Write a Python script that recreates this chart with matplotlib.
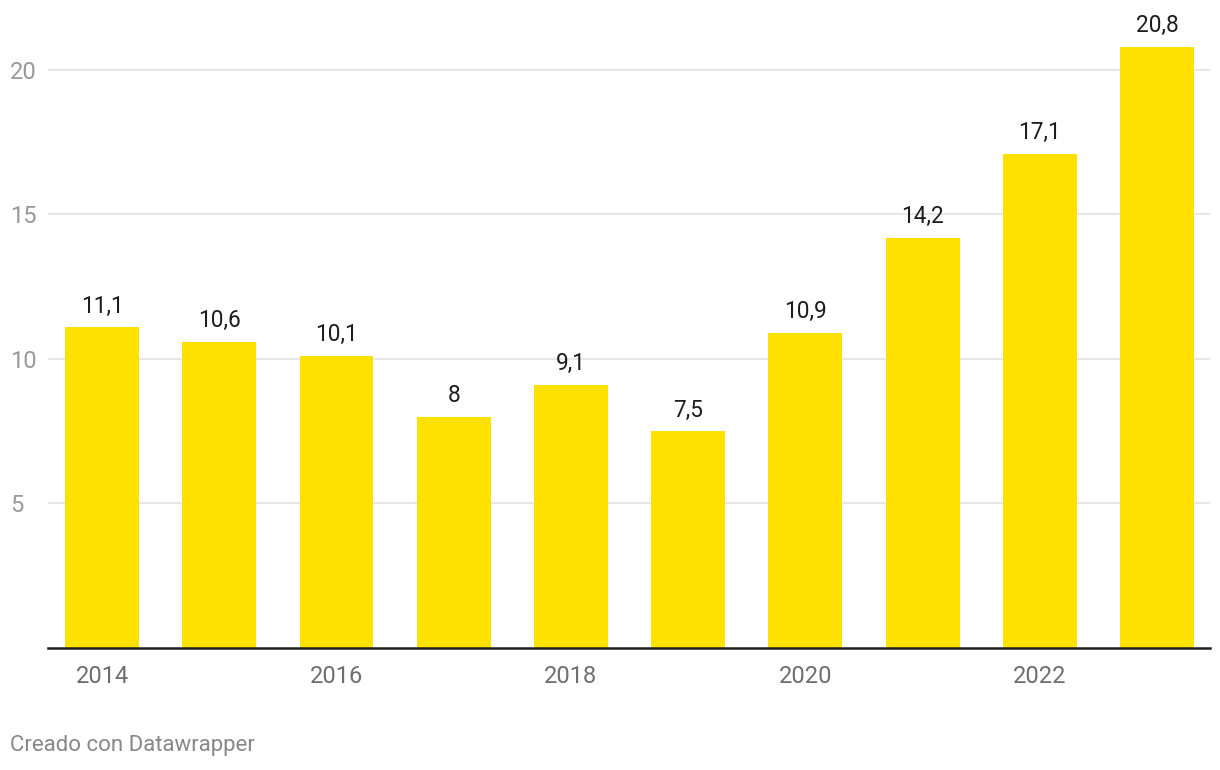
import matplotlib.pyplot as plt
import numpy as np

plt.rcParams['font.family'] = ['Roboto', 'DejaVu Sans']

years = [2014, 2015, 2016, 2017, 2018, 2019, 2020, 2021, 2022, 2023]
values = [11.1, 10.6, 10.1, 8.0, 9.1, 7.5, 10.9, 14.2, 17.1, 20.8]
value_labels = ['11,1', '10,6', '10,1', '8', '9,1', '7,5', '10,9', '14,2', '17,1', '20,8']
y_ticks = [5, 10, 15, 20]
x_tick_years = [2014, 2016, 2018, 2020, 2022]

fig = plt.figure(figsize=(12.2, 7.7), dpi=100)
ax = fig.add_axes([48 / 1220, 122 / 770, 1162 / 1220, 628 / 770])

x = np.arange(len(years))
bars = ax.bar(x, values, width=0.63, color='#FFE100', zorder=3)

for xi, v, lab in zip(x, values, value_labels):
    ax.annotate(lab, (xi, v), xytext=(0, 7), textcoords='offset points',
                ha='center', va='bottom', fontsize=16.3, color='#1d1d1d')

ax.set_xlim(-0.461, 9.452)
ax.set_ylim(0, 21.73)

ax.set_yticks(y_ticks)
ax.set_yticklabels([str(t) for t in y_ticks], ha='left', color='#999999', fontsize=17)
ax.tick_params(axis='y', length=0, pad=27.4)
ax.grid(axis='y', color='#e3e3e3', linewidth=1.2, zorder=0)

tick_pos = [years.index(y) for y in x_tick_years]
ax.set_xticks(tick_pos)
ax.set_xticklabels([str(y) for y in x_tick_years], color='#6e6e6e', fontsize=17)
ax.tick_params(axis='x', length=0, pad=12)

for side in ['top', 'right', 'left']:
    ax.spines[side].set_visible(False)
ax.spines['bottom'].set_color('#1d1d1d')
ax.spines['bottom'].set_linewidth(1.8)
ax.spines['bottom'].set_zorder(4)

fig.text(10 / 1220, 1 - 746 / 770, 'Creado con Datawrapper', ha='left', va='center',
         fontsize=16, color='#888888')

fig.savefig('out.png', dpi=100)
